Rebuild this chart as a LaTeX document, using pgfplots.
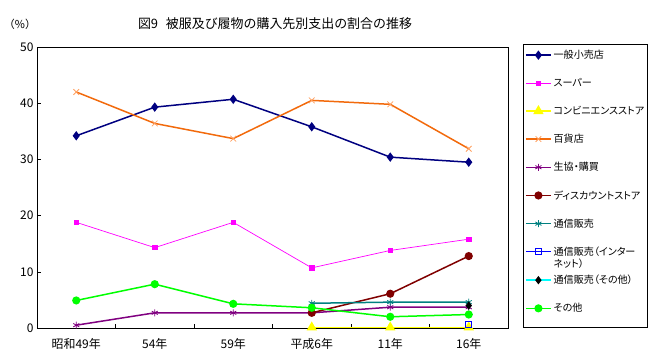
\documentclass[border=0pt]{standalone}
\usepackage{pgfplots}
\pgfplotsset{compat=1.18}
\usepackage{fontspec}
\setmainfont{Noto Sans CJK JP}
\newfontfamily\pfont{Noto Sans CJK JP}[RawFeature=+palt]
\definecolor{cnavy}{HTML}{000080}
\definecolor{cmag}{HTML}{FF00FF}
\definecolor{cyel}{HTML}{FFFF00}
\definecolor{corange}{HTML}{F26A0C}
\definecolor{corangel}{HTML}{FFA060}
\definecolor{cpurp}{HTML}{800080}
\definecolor{cdred}{HTML}{800000}
\definecolor{cteal}{HTML}{008080}
\definecolor{cblue}{HTML}{0000FF}
\definecolor{ccyan}{HTML}{00FFFF}
\definecolor{cgreen}{HTML}{00FF00}
\begin{document}
\begin{tikzpicture}
\useasboundingbox (0,0) rectangle (660bp,358bp);
\node[font=\fontsize{11}{13}\selectfont] at (20bp,334bp) {（\%）};
\node[font=\fontsize{13}{15}\selectfont] at (275bp,334bp) {図9\hspace{0.6em}被服及び履物の購入先別支出の割合の推移};
\begin{axis}[
  at={(37bp,30bp)}, anchor=south west,
  width=471bp, height=281bp, scale only axis,
  clip mode=individual,
  xmin=-0.5, xmax=5.5, ymin=0, ymax=50,
  xtick={0,1,2,3,4,5},
  xticklabels={昭和49年,54年,59年,平成6年,11年,16年},
  minor xtick={0.5,1.5,2.5,3.5,4.5},
  ytick={0,10,20,30,40,50},
  tick pos=left, tick align=inside,
  major tick length=4bp,
  minor tick length=4bp,
  major x tick style={draw=none},
  tick style={black, line width=0.4bp},
  /pgf/number format/assume math mode=true,
  ticklabel style={font=\fontsize{12}{14}\selectfont},
  xticklabel style={yshift=-7bp},
  axis line style={line width=0.6bp},
  legend style={at={(1.0318,1.0036)}, anchor=north west,
    font=\fontsize{10.1}{12}\selectfont\pfont, draw=none, fill=none,
    row sep=14.2bp, inner xsep=2bp, inner ysep=2bp,
    cells={anchor=west, align=left}},
  legend cell align=left,
  legend image code/.code={\draw[mark repeat=2,mark phase=2] plot coordinates {(0bp,0bp) (12.5bp,0bp) (25bp,0bp)};},
]
\addplot[cnavy, line width=1.5bp, mark=diamond*, mark size=3.5bp] coordinates {(0,34.2) (1,39.3) (2,40.7) (3,35.8) (4,30.4) (5,29.5)};
\addlegendentry{一般小売店}
\addplot[cmag, line width=0.7bp, mark=square*, mark size=2.2bp] coordinates {(0,18.8) (1,14.3) (2,18.8) (3,10.7) (4,13.8) (5,15.8)};
\addlegendentry{スーパー}
\addplot[cyel, line width=1.5bp, mark=triangle*, mark size=4.5bp] coordinates {(3,0.1) (4,0.1) (5,0.1)};
\addlegendentry{コンビニエンスストア}
\addplot[corange, line width=1.5bp, mark=x, mark size=4bp, mark options={corangel, line width=0.8bp}] coordinates {(0,42.0) (1,36.4) (2,33.7) (3,40.5) (4,39.8) (5,31.9)};
\addlegendentry{百貨店}
\addplot[cpurp, line width=1.5bp, mark=asterisk, mark size=3.5bp, mark options={line width=0.8bp}] coordinates {(0,0.5) (1,2.7) (2,2.7) (3,2.7) (4,3.7) (5,3.7)};
\addlegendentry{生協・購買}
\addplot[cdred, line width=1.5bp, mark=*, mark size=3.3bp] coordinates {(3,2.7) (4,6.1) (5,12.8)};
\addlegendentry{ディスカウントストア}
\addplot[cteal, line width=1.5bp, mark=asterisk, mark size=3.5bp, mark options={line width=0.8bp}] coordinates {(3,4.4) (4,4.6) (5,4.6)};
\addlegendentry{通信販売}
\addplot[cblue, line width=1.2bp, mark=square, mark size=3bp, mark options={line width=0.8bp}] coordinates {(5,0.7)};
\addlegendentry{\raisebox{0pt}[\height][0pt]{\parbox[t]{3cm}{通信販売（インター\\ネット）}}}
\addplot[ccyan, line width=1.5bp, mark=diamond*, mark size=3bp, mark options={black}] coordinates {(5,4.0)};
\addlegendentry{通信販売（その他）}
\addplot[cgreen, line width=1.5bp, mark=*, mark size=3.3bp] coordinates {(0,4.9) (1,7.8) (2,4.3) (3,3.6) (4,2.0) (5,2.4)};
\addlegendentry{その他}
\draw[black, line width=0.6bp] (rel axis cs:1.0318,1.0107) rectangle (rel axis cs:1.2951,0.0036);
\end{axis}
\end{tikzpicture}
\end{document}
